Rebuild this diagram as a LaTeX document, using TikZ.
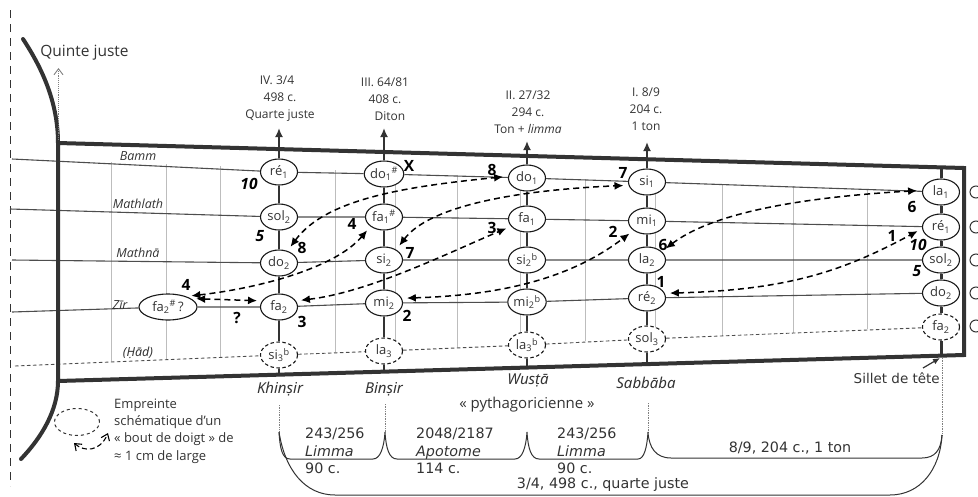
\documentclass[tikz,border=0pt]{standalone}
\usepackage{fontspec}
\setmainfont{Open Sans}
\newfontfamily\dejavu{DejaVu Sans}
\newfontfamily\noto{Noto Sans}
\usetikzlibrary{arrows.meta, shapes.geometric}
\definecolor{inkgray}{HTML}{333333}
\definecolor{stringgray}{HTML}{4D4D4D}
\definecolor{fretgray}{HTML}{BDBDBD}
\tikzset{
  notenode/.style={ellipse, draw=black!90, line width=1.1pt, fill=white, minimum width=37pt, minimum height=26pt, inner sep=0pt, text=inkgray, font=\fontsize{13}{13}\selectfont},
  ghostnode/.style={notenode, dash pattern=on 3.5pt off 2.5pt},
  frame/.style={draw=inkgray, line width=4pt, line join=miter},
  stringline/.style={draw=stringgray, line width=1.1pt},
  ghostline/.style={draw=stringgray, line width=0.9pt, dash pattern=on 3.5pt off 2.5pt},
  fretline/.style={draw=inkgray, line width=2pt},
  grayline/.style={draw=fretgray, line width=0.6pt},
  dropline/.style={draw=gray, line width=0.7pt, densely dotted},
  brace/.style={draw=inkgray, line width=1pt},
  finger/.style={draw=black, line width=1.5pt, dash pattern=on 6pt off 4pt, {Latex[length=9pt,width=8pt]}-{Latex[length=9pt,width=8pt]}, shorten <=5pt, shorten >=5pt},
  upper/.style={-{Latex[length=9pt,width=8pt]}, draw=inkgray, line width=2pt},
  degree/.style={align=center, text=inkgray, font=\fontsize{12}{17}\selectfont},
  strname/.style={inner sep=0pt, text=inkgray, font=\fontsize{12.5}{12.5}\selectfont\itshape},
  fretname/.style={inner sep=0pt, text=inkgray, font=\noto\fontsize{15}{15}\selectfont\itshape},
  num/.style={inner sep=0pt, text=black, font=\fontsize{15.5}{15.5}\selectfont\bfseries},
  numit/.style={num, font=\fontsize{15.5}{15.5}\selectfont\bfseries\itshape},
  ratio/.style={align=left, anchor=west, inner sep=0pt, text=inkgray, font=\dejavu\fontsize{14.3}{17.5}\selectfont},
}
\newcommand{\dn}[1]{\textsubscript{#1}}
\newcommand{\up}[1]{\textsuperscript{#1}}
\begin{document}
\begin{tikzpicture}[x=1pt,y=-1pt]
  \clip (0,0) rectangle (978,496);
  \useasboundingbox (0,0) rectangle (978,496);
  \draw[draw=inkgray, line width=1.8pt, dash pattern=on 8pt off 6pt] (10.5,10) -- (10.5,486);
  \foreach \x in {111,166,220,335,395,457,520,585,655,722,793,867}
    \draw[grayline] (\x,{159+(\x-12)*0.0351}) -- (\x,{366-(\x-15)*0.043});
  % notes
  \node[notenode] (reK) at (279,172) {ré\dn{1}};
  \node[notenode] (solK) at (279,217) {sol\dn{2}};
  \node[notenode] (doK) at (279,263) {do\dn{2}};
  \node[notenode] (faK) at (279,307) {fa\dn{2}};
  \node[ghostnode] (siK) at (279,355) {si\dn{3}\up{b}};
  \node[notenode] (doB) at (384,174) {do\dn{1}\up{\#}};
  \node[notenode] (faB) at (384,217) {fa\dn{1}\up{\#}};
  \node[notenode] (siB) at (384,260) {si\dn{2}};
  \node[notenode] (miB) at (384,303) {mi\dn{2}};
  \node[ghostnode] (laB) at (384,351) {la\dn{3}};
  \node[notenode] (doW) at (527,178) {do\dn{1}};
  \node[notenode] (faW) at (527,219) {fa\dn{1}};
  \node[notenode] (siW) at (527,260) {si\dn{2}\up{b}};
  \node[notenode] (miW) at (527,302) {mi\dn{2}\up{b}};
  \node[ghostnode] (laW) at (527,345) {la\dn{3}\up{b}};
  \node[notenode] (siS) at (647,182) {si\dn{1}};
  \node[notenode] (miS) at (647,221) {mi\dn{1}};
  \node[notenode] (laS) at (647,260) {la\dn{2}};
  \node[notenode] (reS) at (647,298) {ré\dn{2}};
  \node[ghostnode] (solS) at (647,339) {sol\dn{3}};
  \node[notenode] (laN) at (941,192) {la\dn{1}};
  \node[notenode] (reN) at (941,227) {ré\dn{1}};
  \node[notenode] (solN) at (941,260) {sol\dn{2}};
  \node[notenode] (doN) at (941,293) {do\dn{2}};
  \node[ghostnode] (faN) at (941,327) {fa\dn{2}};
  \node[notenode, minimum width=58pt] (faQ) at (168,307) {fa\dn{2}\up{\#}\,?};
  \foreach \n/\y in {a/192,b/227,c/260,d/293,e/326}
    \node[circle, draw=inkgray, line width=1pt, minimum size=12pt, inner sep=0pt] (open\n) at (976,\y) {};
  % strings
  \coordinate (bammL) at (12,159);
  \coordinate (mathlathL) at (10,209);
  \coordinate (mathnaL) at (12,260);
  \coordinate (zirL) at (12,312);
  \coordinate (hadL) at (15,366);
  \draw[stringline] (bammL) -- (reK) -- (doB) -- (doW) -- (siS) -- (laN);
  \draw[stringline] (mathlathL) -- (solK) -- (faB) -- (faW) -- (miS) -- (reN);
  \draw[stringline] (mathnaL) -- (doK) -- (siB) -- (siW) -- (laS) -- (solN);
  \draw[stringline] (zirL) -- (faQ) -- (faK) -- (miB) -- (miW) -- (reS) -- (doN);
  \draw[ghostline] (hadL) -- (siK) -- (laB) -- (laW) -- (solS) -- (faN);
  % frets
  \coordinate (topK) at (279,128);
  \coordinate (topB) at (384,128);
  \coordinate (topW) at (527,141);
  \coordinate (topS) at (647,142);
  \coordinate (baseK) at (279,374);
  \coordinate (baseB) at (384,371);
  \coordinate (baseW) at (527,367);
  \coordinate (baseS) at (647,364);
  \coordinate (topN) at (941,167);
  \coordinate (baseN) at (941,355);
  \draw[fretline] (baseK) -- (siK) -- (faK) -- (doK) -- (solK) -- (reK);
  \draw[fretline] (baseB) -- (laB) -- (miB) -- (siB) -- (faB) -- (doB);
  \draw[fretline] (baseW) -- (laW) -- (miW) -- (siW) -- (faW) -- (doW);
  \draw[fretline] (baseS) -- (solS) -- (reS) -- (laS) -- (miS) -- (siS);
  \draw[fretline, line width=3pt] (topN) -- (laN) -- (reN) -- (solN) -- (doN) -- (faN) -- (baseN);
  \draw[upper] (reK) -- (topK);
  \draw[upper] (doB) -- (topB);
  \draw[upper] (doW) -- (topW);
  \draw[upper] (siS) -- (topS);
  % neck and bridge
  \draw[frame] (58,143) -- (964,168) -- (964,355) -- (58,381) -- cycle;
  \draw[frame, line cap=round] (23,39) .. controls (40,65) and (58,100) .. (58,143);
  \draw[frame, line cap=round] (58,381) .. controls (58,410) and (42,437) .. (21,459);
  % finger shifts
  \draw[finger] (doK.55) .. controls (325,200) and (400,187) .. (doW.175);
  \draw[finger] (siB.40) .. controls (430,205) and (520,190) .. (siS.190);
  \draw[finger] (faQ.30) .. controls (260,288) and (335,268) .. (faB.215);
  \draw[finger] (faK.20) .. controls (370,292) and (450,252) .. (faW.205);
  \draw[finger] (miB.15) .. controls (510,295) and (575,275) .. (miS.215);
  \draw[finger] (laS.30) .. controls (710,215) and (790,198) .. (laN.175);
  \draw[finger] (reS.15) .. controls (790,290) and (845,270) .. (reN.185);
  \draw[finger] (faQ.20) -- (faK.160);
  % labels
  \node[degree] (deg4) at (280,99) {IV. 3/4\hspace*{6pt}\\498 c.\hspace*{6pt}\\Quarte juste};
  \node[degree] (deg3) at (385,99) {III. 64/81\\408 c.\\\hspace*{10pt}Diton};
  \node[degree] (deg2) at (528,112) {II. 27/32\\294 c.\\Ton + \emph{limma}};
  \node[degree] (deg1) at (646,109) {I. 8/9\\204 c.\\1 ton};
  \node[strname] (bamm) at (138,156) {Bamm};
  \node[strname] (mathlath) at (138,204) {Mathlath};
  \node[strname] (mathna) at (138,253) {Mathnā};
  \node[strname] (zir) at (120,305) {Zīr};
  \node[strname, font=\noto\fontsize{12.5}{12.5}\selectfont\itshape] (had) at (138,353) {(Ḥād)};
  \node[fretname] (khinsir) at (280,389) {Khinṣir};
  \node[fretname] (binsir) at (384,389) {Binṣir};
  \node[fretname] (wusta) at (528,380) {Wusṭā};
  \node[fretname] (sabbaba) at (646,383) {Sabbāba};
  \node[inner sep=0pt, text=inkgray, font=\fontsize{15}{15}\selectfont] (pytha) at (527,405) {« pythagoricienne »};
  \node[text=inkgray, font=\fontsize{15.5}{15.5}\selectfont] (quinte) at (84.5,53) {Quinte juste};
  \node[inner sep=0pt, text=inkgray, font=\dejavu\fontsize{13.5}{13.5}\selectfont, anchor=east] (sillet) at (940,378) {Sillet de tête};
  \coordinate (silletTip) at (940,358);
  \coordinate (silletTail) at (923,368);
  \draw[-{Latex[length=7pt,width=6pt]}, draw=inkgray, line width=1.2pt] (silletTail) -- (silletTip);
  \coordinate (quinteTip) at (58.5,68);
  \coordinate (quinteBase) at (58.5,140);
  \draw[-{Straight Barb[length=6pt,width=9pt]}, draw=gray, line width=0.9pt, densely dotted] (quinteBase) -- (quinteTip);
  % fingering numbers
  \node[numit] (n10a) at (249,184) {10};
  \node[numit] (n5a) at (260,236) {5};
  \node[num] (n8a) at (302,248) {8};
  \node[num] (n4a) at (186,285) {4};
  \node[num] (nq) at (237,318) {?};
  \node[num] (n3a) at (302,322) {3};
  \node[num] (nx) at (409,166) {X};
  \node[num] (n4b) at (352,224) {4};
  \node[num] (n7a) at (410,253) {7};
  \node[num] (n2a) at (407,316) {2};
  \node[num] (n8b) at (492,170) {8};
  \node[num] (n3b) at (492,228) {3};
  \node[num] (n7b) at (623,173) {7};
  \node[num] (n2b) at (613,232) {2};
  \node[num] (n6a) at (663,245) {6};
  \node[num] (n1a) at (661,282) {1};
  \node[num] (n6b) at (912,207) {6};
  \node[num] (n1b) at (892,236) {1};
  \node[numit] (n10b) at (918,245) {10};
  \node[numit] (n5b) at (917,271) {5};
  % intervals below
  \coordinate (dropK) at (279,405);
  \coordinate (dropB) at (385,404);
  \coordinate (dropS) at (648,403);
  \coordinate (dropN) at (942,358);
  \coordinate (peakK) at (279,432);
  \coordinate (peakB) at (385,432);
  \coordinate (peakW) at (527,432);
  \coordinate (peakS) at (648,432);
  \coordinate (peakN) at (942,435);
  \draw[dropline] (dropK) -- (peakK);
  \draw[dropline] (dropB) -- (peakB);
  \draw[dropline] (dropS) -- (peakS);
  \draw[dropline] (dropN) -- (peakN);
  \draw[brace] (peakK) .. controls (280,448) and (282,459) .. (290,459) -- (373,459) .. controls (380,459) and (384,448) .. (peakB)
    .. controls (386,448) and (389,459) .. (397,459) -- (515,459) .. controls (522,459) and (526,448) .. (peakW)
    .. controls (528,448) and (531,459) .. (539,459) -- (638,459) .. controls (644,459) and (647,448) .. (peakS)
    .. controls (649,448) and (656,458) .. (671,458) -- (922,458) .. controls (935,458) and (941,450) .. (peakN);
  \draw[brace] (peakK) .. controls (285,470) and (305,495) .. (335,495) -- (890,495) .. controls (920,495) and (940,470) .. (peakN);
  \node[ratio] (int1) at (305,451) {243/256\\\emph{Limma}\\90 c.};
  \node[ratio] (int2) at (416,451) {2048/2187\\\emph{Apotome}\\114 c.};
  \node[ratio] (int3) at (557,451) {243/256\\\emph{Limma}\\90 c.};
  \node[ratio, anchor=center] (int4) at (790,448) {8/9, 204 c., 1 ton};
  \node[ratio, anchor=center] (int5) at (603,485) {3/4, 498 c., quarte juste};
  % legend
  \node[ellipse, draw=inkgray, line width=1pt, dashed, minimum width=45pt, minimum height=27pt] (print) at (77,422) {};
  \node[align=left, anchor=west, inner sep=0pt, text=inkgray, font=\fontsize{13}{17.4}\selectfont] (printtext) at (114,431) {Empreinte\\schématique d'un\\« bout de doigt » de\\≈ 1 cm de large};
  \coordinate (rollA) at (74,443);
  \coordinate (rollB) at (108,433);
  \draw[{Straight Barb[length=6pt,width=9pt]}-{Straight Barb[length=6pt,width=9pt]}, draw=black, line width=1.1pt, dash pattern=on 5pt off 3pt] (rollA) .. controls (84,452) and (100,452) .. (rollB);
\end{tikzpicture}
\end{document}
